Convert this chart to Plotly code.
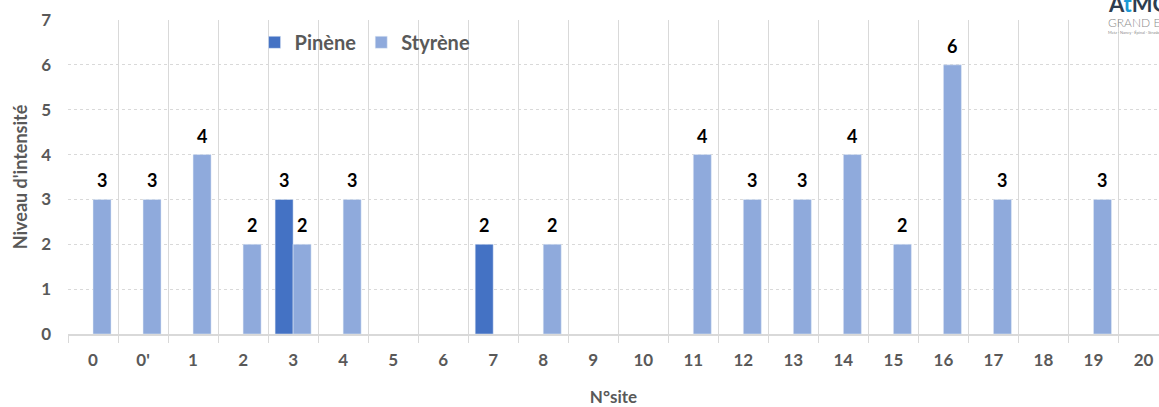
import plotly.graph_objects as go

# Sites sampled and intensity levels per compound
sites = ["0", "0'", "1", "2", "3", "4", "5", "6", "7", "8", "9", "10",
         "11", "12", "13", "14", "15", "16", "17", "18", "19", "20"]
pinene = [None, None, None, None, 3, None, None, None, 2, None, None, None,
          None, None, None, None, None, None, None, None, None, None]
styrene = [3, 3, 4, 2, 2, 3, None, None, None, 2, None, None,
           4, 3, 3, 4, 2, 6, 3, None, 3, None]
y_ticks = [0, 1, 2, 3, 4, 5, 6, 7]

GREY = "#595959"
GRID = "#d9d9d9"
FONT = "Lato, 'Open Sans', sans-serif"

fig = go.Figure()
fig.add_trace(go.Bar(name="Pinène", x=sites, y=pinene, marker_color="#4472C4"))
fig.add_trace(go.Bar(name="Styrène", x=sites, y=styrene, marker_color="#8FAADC"))

# Value labels above each bar (left slot = Pinène, right slot = Styrène);
# x is given as the category index so digit-like names are not read as numbers
for vals, shift in ((pinene, -9), (styrene, 9)):
    for i, v in enumerate(vals):
        if v is None:
            continue
        fig.add_annotation(
            x=i, y=v, text=f"<b>{v}</b>", showarrow=False,
            xshift=shift, yanchor="bottom", yshift=6,
            font=dict(size=18, color="#000000", family=FONT),
        )

fig.update_layout(
    width=1159, height=407,
    margin=dict(l=68, r=0, t=20, b=73),
    paper_bgcolor="white", plot_bgcolor="white",
    barmode="group", bargap=0.28, bargroupgap=0,
    font=dict(family=FONT, color=GREY),
    showlegend=True,
    legend=dict(
        orientation="h", x=0.171, y=0.929, xanchor="left", yanchor="middle",
        bgcolor="rgba(0,0,0,0)", font=dict(size=20, color=GREY, weight="bold"),
        tracegroupgap=0,
    ),
    xaxis=dict(
        type="category", range=[-0.5, 21.31],
        tickson="boundaries", ticks="outside", ticklen=7, tickcolor=GRID,
        showgrid=True, gridcolor=GRID, gridwidth=1,
        showline=True, linecolor=GRID, linewidth=2,
        tickfont=dict(size=17, color=GREY, weight="bold"),
        ticklabelstandoff=10,
        title=dict(text="<b>N°site</b>", font=dict(size=17, color=GREY), standoff=24),
    ),
    yaxis=dict(
        range=[0, 7], tickvals=y_ticks, ticks="",
        showgrid=True, gridcolor=GRID, griddash="dot", gridwidth=1,
        zeroline=False, showline=False,
        tickfont=dict(size=17, color=GREY, weight="bold"),
        ticklabelstandoff=16,
        title=dict(text="<b>Niveau d'intensité</b>", font=dict(size=18, color=GREY), standoff=8),
    ),
)

# Organisation logo in the top-right corner
fig.add_annotation(
    xref="paper", yref="paper", x=0.9515, y=1.052, xanchor="left", yanchor="middle",
    text="<b>A<span style='color:#1a9ad6'>t</span>MO</b>", showarrow=False,
    font=dict(size=22, color="#2e3d4f", family=FONT),
)
fig.add_annotation(
    xref="paper", yref="paper", x=0.951, y=0.993, xanchor="left", yanchor="middle",
    text="GRAND EST", showarrow=False,
    font=dict(size=12, color="#8c8c8c", family=FONT, weight=300),
)
fig.add_annotation(
    xref="paper", yref="paper", x=0.951, y=0.96, xanchor="left", yanchor="middle",
    text="Metz · Nancy · Épinal · Strasbourg", showarrow=False,
    font=dict(size=4, color="#8c8c8c", family=FONT),
)

fig.write_html("out.html")
